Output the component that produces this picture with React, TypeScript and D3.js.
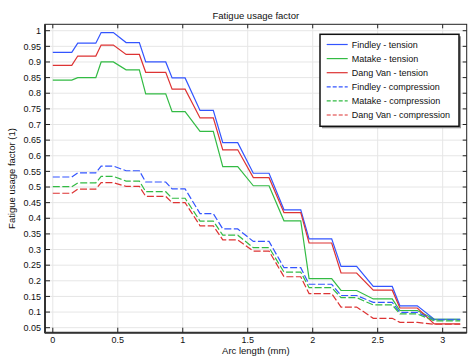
import React from 'react';
import * as d3 from 'd3';

// arc length (mm) at each vertex of the step curves
const arcLength = [0, 0.146, 0.192, 0.331, 0.372, 0.466, 0.564, 0.666, 0.715, 0.869, 0.918, 1.018, 1.133, 1.235, 1.308, 1.423, 1.543, 1.664, 1.779, 1.908, 1.972, 2.146, 2.218, 2.338, 2.466, 2.612, 2.671, 2.805, 2.935, 3.135];

const findleyTension = [0.931, 0.931, 0.96, 0.96, 0.994, 0.994, 0.962, 0.962, 0.9, 0.9, 0.849, 0.849, 0.745, 0.745, 0.642, 0.642, 0.544, 0.544, 0.427, 0.427, 0.334, 0.334, 0.246, 0.246, 0.182, 0.182, 0.12, 0.12, 0.077, 0.077];
const matakeTension = [0.842, 0.842, 0.85, 0.85, 0.9, 0.9, 0.875, 0.875, 0.798, 0.798, 0.741, 0.741, 0.678, 0.678, 0.565, 0.565, 0.504, 0.504, 0.392, 0.392, 0.207, 0.207, 0.169, 0.169, 0.142, 0.142, 0.105, 0.105, 0.077, 0.077];
const dangVanTension = [0.889, 0.889, 0.919, 0.919, 0.954, 0.954, 0.924, 0.924, 0.867, 0.867, 0.813, 0.813, 0.721, 0.721, 0.619, 0.619, 0.53, 0.53, 0.418, 0.418, 0.321, 0.321, 0.225, 0.225, 0.17, 0.17, 0.113, 0.113, 0.062, 0.062];
const findleyCompression = [0.532, 0.532, 0.545, 0.545, 0.567, 0.567, 0.552, 0.552, 0.516, 0.516, 0.494, 0.494, 0.415, 0.415, 0.366, 0.366, 0.326, 0.326, 0.242, 0.242, 0.189, 0.189, 0.153, 0.153, 0.131, 0.131, 0.099, 0.099, 0.075, 0.075];
const matakeCompression = [0.501, 0.501, 0.513, 0.513, 0.534, 0.534, 0.519, 0.519, 0.485, 0.485, 0.464, 0.464, 0.391, 0.391, 0.346, 0.346, 0.306, 0.306, 0.228, 0.228, 0.178, 0.178, 0.146, 0.146, 0.123, 0.123, 0.094, 0.094, 0.072, 0.072];
const dangVanCompression = [0.48, 0.48, 0.493, 0.493, 0.514, 0.514, 0.502, 0.502, 0.47, 0.47, 0.45, 0.45, 0.376, 0.376, 0.331, 0.331, 0.295, 0.295, 0.213, 0.213, 0.159, 0.159, 0.116, 0.116, 0.08, 0.08, 0.067, 0.067, 0.061, 0.061];

const seriesNames = ['Findley - tension', 'Matake - tension', 'Dang Van - tension', 'Findley - compression', 'Matake - compression', 'Dang Van - compression'];
const seriesValues = [findleyTension, matakeTension, dangVanTension, findleyCompression, matakeCompression, dangVanCompression];

const xTicks = [0, 0.5, 1, 1.5, 2, 2.5, 3];
const yTicks = [0.05, 0.1, 0.15, 0.2, 0.25, 0.3, 0.35, 0.4, 0.45, 0.5, 0.55, 0.6, 0.65, 0.7, 0.75, 0.8, 0.85, 0.9, 0.95, 1];

const colors = ['#3355ff', '#33bb44', '#dd3333', '#3355ff', '#33bb44', '#dd3333'];
const font = 'Liberation Sans, Arial, sans-serif';

export default function App() {
  const W = 475, H = 358;
  const left = 45, right = 466.7, top = 24.3, bottom = 332.7;

  const x = d3.scaleLinear().domain([-0.06, 3.185]).range([left, right]);
  const y = d3.scaleLinear().domain([0.034, 1.0205]).range([bottom, top]);

  const line = d3.line<[number, number]>()
    .x(d => x(d[0]))
    .y(d => y(d[1]));

  const legX = 320, legY = 34.3, legW = 139, legH = 92;

  return (
    <svg width={W} height={H} style={{position: 'absolute', left: 0, top: 0, background: '#fff'}} fontFamily={font}>
      <rect x={0} y={0} width={W} height={H} fill="#fff" />
      <text x={(left + right) / 2} y={19} textAnchor="middle" fontSize={9.5} fill="#111">Fatigue usage factor</text>

      {/* grid */}
      {xTicks.map(t => (
        <line key={'gx' + t} x1={x(t)} x2={x(t)} y1={top} y2={bottom} stroke="#e6e6e6" strokeWidth={1} />
      ))}
      {yTicks.map(t => (
        <line key={'gy' + t} x1={left} x2={right} y1={y(t)} y2={y(t)} stroke="#e6e6e6" strokeWidth={1} />
      ))}

      {/* series */}
      {seriesValues.map((vals, i) => {
        const pts = arcLength.map((a, j) => [a, vals[j]] as [number, number]);
        return (
          <path key={seriesNames[i]} d={line(pts) || ''} fill="none" stroke={colors[i]}
            strokeWidth={1.2} strokeDasharray={i >= 3 ? '7,2.5' : undefined} />
        );
      })}

      {/* frame */}
      <rect x={left} y={top} width={right - left} height={bottom - top} fill="none" stroke="#222" strokeWidth={1} />
      <line x1={left} x2={left} y1={top} y2={bottom + 0.5} stroke="#333" strokeWidth={2} />
      <line x1={left} x2={right} y1={bottom} y2={bottom} stroke="#333" strokeWidth={2} />

      {/* ticks */}
      {xTicks.map(t => (
        <g key={'tx' + t}>
          <line x1={x(t)} x2={x(t)} y1={bottom} y2={bottom - 5} stroke="#222" />
          <line x1={x(t)} x2={x(t)} y1={top} y2={top + 4} stroke="#222" />
          <text x={x(t)} y={342.5} textAnchor="middle" fontSize={9} fill="#111">{t}</text>
        </g>
      ))}
      {yTicks.map(t => (
        <g key={'ty' + t}>
          <line x1={left} x2={left + 5} y1={y(t)} y2={y(t)} stroke="#222" />
          <line x1={right} x2={right - 4} y1={y(t)} y2={y(t)} stroke="#222" />
          <text x={41} y={y(t) + 3.2} textAnchor="end" fontSize={9} fill="#111">{t}</text>
        </g>
      ))}

      <text x={(left + right) / 2} y={353.5} textAnchor="middle" fontSize={9.5} fill="#111">Arc length (mm)</text>
      <text transform={`translate(15,${(top + bottom) / 2}) rotate(-90)`} textAnchor="middle" fontSize={9.5} fill="#111">Fatigue usage factor (1)</text>

      {/* legend */}
      <rect x={legX + 2} y={legY + 2} width={legW} height={legH} fill="#999" />
      <rect x={legX} y={legY} width={legW} height={legH} fill="#fff" stroke="#111" strokeWidth={1.5} />
      {seriesNames.map((name, i) => {
        const ly = legY + 10.2 + i * 14.1;
        return (
          <g key={'leg' + name}>
            <line x1={legX + 6.7} x2={legX + 27.7} y1={ly} y2={ly} stroke={colors[i]} strokeWidth={1.2}
              strokeDasharray={i >= 3 ? '4,2' : undefined} />
            <text x={legX + 31.7} y={ly + 3.2} fontSize={9} fill="#111">{name}</text>
          </g>
        );
      })}
    </svg>
  );
}
